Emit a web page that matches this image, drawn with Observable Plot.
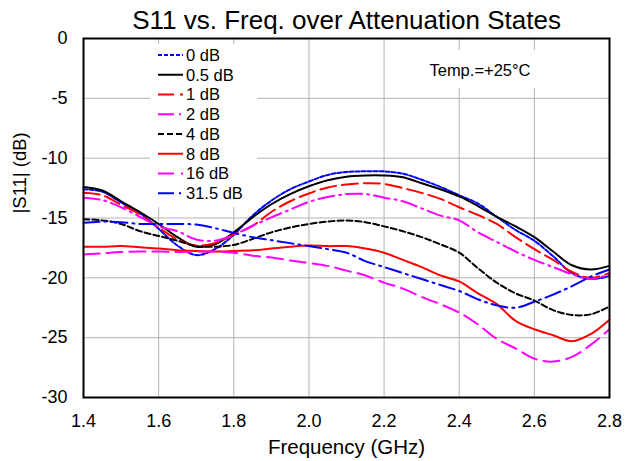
<!DOCTYPE html>
<html><head><meta charset="utf-8">
<script src="https://cdn.jsdelivr.net/npm/d3@7"></script>
<script src="https://cdn.jsdelivr.net/npm/@observablehq/plot@0.6"></script>
<style>body{margin:0;background:#fff;overflow:hidden} #chart svg{display:block}</style>
</head><body><div id="chart"></div>
<script>
const FONT = '"Liberation Sans", Arial, Helvetica, sans-serif';

const freq = [1.4,1.45,1.5,1.55,1.6,1.65,1.7,1.75,1.8,1.85,1.9,1.95,2.0,2.05,2.1,2.15,2.2,2.25,2.3,2.35,2.4,2.45,2.5,2.55,2.6,2.65,2.7,2.75,2.8];
const xTicks = [1.4,1.6,1.8,2.0,2.2,2.4,2.6,2.8];
const yTicks = [0,-5,-10,-15,-20,-25,-30];

const s0dB   = [-12.6,-12.8,-13.7,-14.6,-15.9,-17.3,-18.1,-17.6,-16.4,-14.8,-13.55,-12.6,-11.95,-11.4,-11.15,-11.1,-11.1,-11.3,-11.8,-12.4,-13.1,-13.8,-14.9,-16.0,-16.9,-18.2,-19.6,-20.1,-19.85];
const s05dB  = [-12.4,-12.7,-13.6,-14.5,-15.5,-16.6,-17.4,-17.2,-16.2,-14.95,-13.85,-13.0,-12.35,-11.85,-11.55,-11.45,-11.45,-11.6,-12.1,-12.6,-13.2,-14.0,-14.9,-15.7,-16.6,-17.8,-18.95,-19.3,-19.0];
const s1dB   = [-12.9,-13.1,-13.9,-14.7,-15.8,-16.8,-17.3,-17.1,-16.4,-15.65,-14.5,-13.6,-12.95,-12.45,-12.2,-12.1,-12.15,-12.5,-12.9,-13.4,-14.1,-14.75,-15.5,-16.6,-17.6,-18.5,-19.5,-20.0,-19.6];
const s2dB   = [-13.3,-13.5,-14.1,-14.9,-15.7,-16.1,-16.8,-16.9,-16.4,-15.65,-14.95,-14.3,-13.65,-13.25,-13.0,-13.0,-13.3,-13.6,-14.2,-14.8,-15.2,-16.2,-17.0,-17.8,-18.5,-19.1,-19.7,-20.1,-19.7];
const s4dB   = [-15.1,-15.2,-15.5,-16.1,-16.5,-16.9,-17.35,-17.4,-17.25,-16.75,-16.2,-15.8,-15.5,-15.3,-15.2,-15.35,-15.7,-16.1,-16.6,-17.2,-17.9,-19.2,-20.4,-21.3,-21.9,-22.7,-23.1,-23.05,-22.4];
const s8dB   = [-17.4,-17.4,-17.35,-17.45,-17.55,-17.7,-17.75,-17.8,-17.75,-17.7,-17.55,-17.4,-17.3,-17.35,-17.35,-17.55,-17.9,-18.5,-19.1,-19.8,-20.3,-21.3,-22.2,-23.6,-24.3,-24.8,-25.3,-24.7,-23.5];
const s16dB  = [-18.05,-17.95,-17.85,-17.8,-17.8,-17.85,-17.8,-17.8,-17.9,-18.15,-18.3,-18.55,-18.75,-19.0,-19.4,-19.8,-20.4,-20.9,-21.6,-22.2,-22.9,-23.9,-25.1,-25.9,-26.75,-27.0,-26.6,-25.6,-24.3];
const s315dB = [-15.4,-15.3,-15.35,-15.5,-15.5,-15.5,-15.55,-15.85,-16.25,-16.6,-16.85,-17.1,-17.35,-17.6,-17.9,-18.6,-19.1,-19.6,-20.1,-20.6,-21.1,-21.8,-22.3,-22.5,-22.0,-21.4,-20.7,-19.9,-19.3];

const seriesNames  = ["0 dB","0.5 dB","1 dB","2 dB","4 dB","8 dB","16 dB","31.5 dB"];
const seriesValues = [s0dB, s05dB, s1dB, s2dB, s4dB, s8dB, s16dB, s315dB];
const seriesColors = ["#0000ff","#000000","#ff0000","#ff00ff","#000000","#ff0000","#ff00ff","#0000ff"];
const seriesDashes = ["4,2", null, "16,6", "16,5,2,5", "6,3", null, "16,7", "16,5,2,5"];

const tables = seriesNames.map((name, i) => freq.map((f, j) => ({name, f, v: seriesValues[i][j]})));

const gridStyle = {stroke: "#b4b4b4", strokeOpacity: 1, strokeWidth: 1};

const chart = Plot.plot({
  width: 625,
  height: 461,
  marginTop: 38,
  marginRight: 16,
  marginBottom: 64,
  marginLeft: 83,
  style: {fontFamily: FONT, background: "#fff", color: "#000"},
  x: {domain: [1.4, 2.8]},
  y: {domain: [-30, 0]},
  marks: [
    Plot.gridX(xTicks, gridStyle),
    Plot.gridY(yTicks, gridStyle),
    ...tables.map((t, i) => Plot.line(t, {
      x: "f", y: "v",
      stroke: seriesColors[i],
      strokeWidth: 2,
      strokeDasharray: seriesDashes[i] || undefined,
      curve: "catmull-rom"
    })),
    Plot.frame({stroke: "#000", strokeWidth: 2}),
    Plot.axisX(xTicks, {tickSize: 0, tickPadding: 17, fontSize: 18, tickFormat: d3.format(".1f"), label: null}),
    Plot.axisY(yTicks, {tickSize: 0, tickPadding: 16, fontSize: 18, tickFormat: d => String(d), label: null}),
    Plot.text(["S11 vs. Freq. over Attenuation States"], {text: d => d, frameAnchor: "top", dy: -18, fontSize: 26, lineAnchor: "middle", fill: "#000"}),
    Plot.text(["Frequency (GHz)"], {text: d => d, frameAnchor: "bottom", dy: 49.6, fontSize: 20.5, lineAnchor: "middle", fill: "#000"}),
    Plot.text(["|S11| (dB)"], {text: d => d, frameAnchor: "left", dx: -63, dy: -4.5, rotate: -90, fontSize: 18.5, lineAnchor: "middle", fill: "#000"})
  ]
});

document.getElementById("chart").appendChild(chart);

// In-plot legend and temperature note (Excel style, white boxes)
const svg = d3.select(chart);
const g = svg.append("g").attr("font-family", FONT).attr("text-anchor", "start");
g.append("rect").attr("x", 150).attr("y", 44).attr("width", 107).attr("height", 163).attr("fill", "#fff");
seriesNames.forEach((name, i) => {
  const y = 55 + i * 19.75;
  g.append("line")
    .attr("x1", 158).attr("x2", 183).attr("y1", y).attr("y2", y)
    .attr("stroke", seriesColors[i]).attr("stroke-width", 2)
    .attr("stroke-dasharray", seriesDashes[i]);
  g.append("text").attr("x", 186).attr("y", y).attr("dy", "0.35em")
    .attr("text-anchor", "start")
    .attr("font-size", 16.5).attr("fill", "#000").text(name);
});
g.append("rect").attr("x", 425).attr("y", 50).attr("width", 113).attr("height", 38).attr("fill", "#fff");
g.append("text").attr("x", 480).attr("y", 70).attr("dy", "0.35em").attr("text-anchor", "middle")
  .attr("font-size", 16.5).attr("fill", "#000").text("Temp.=+25°C");
</script>
</body></html>
